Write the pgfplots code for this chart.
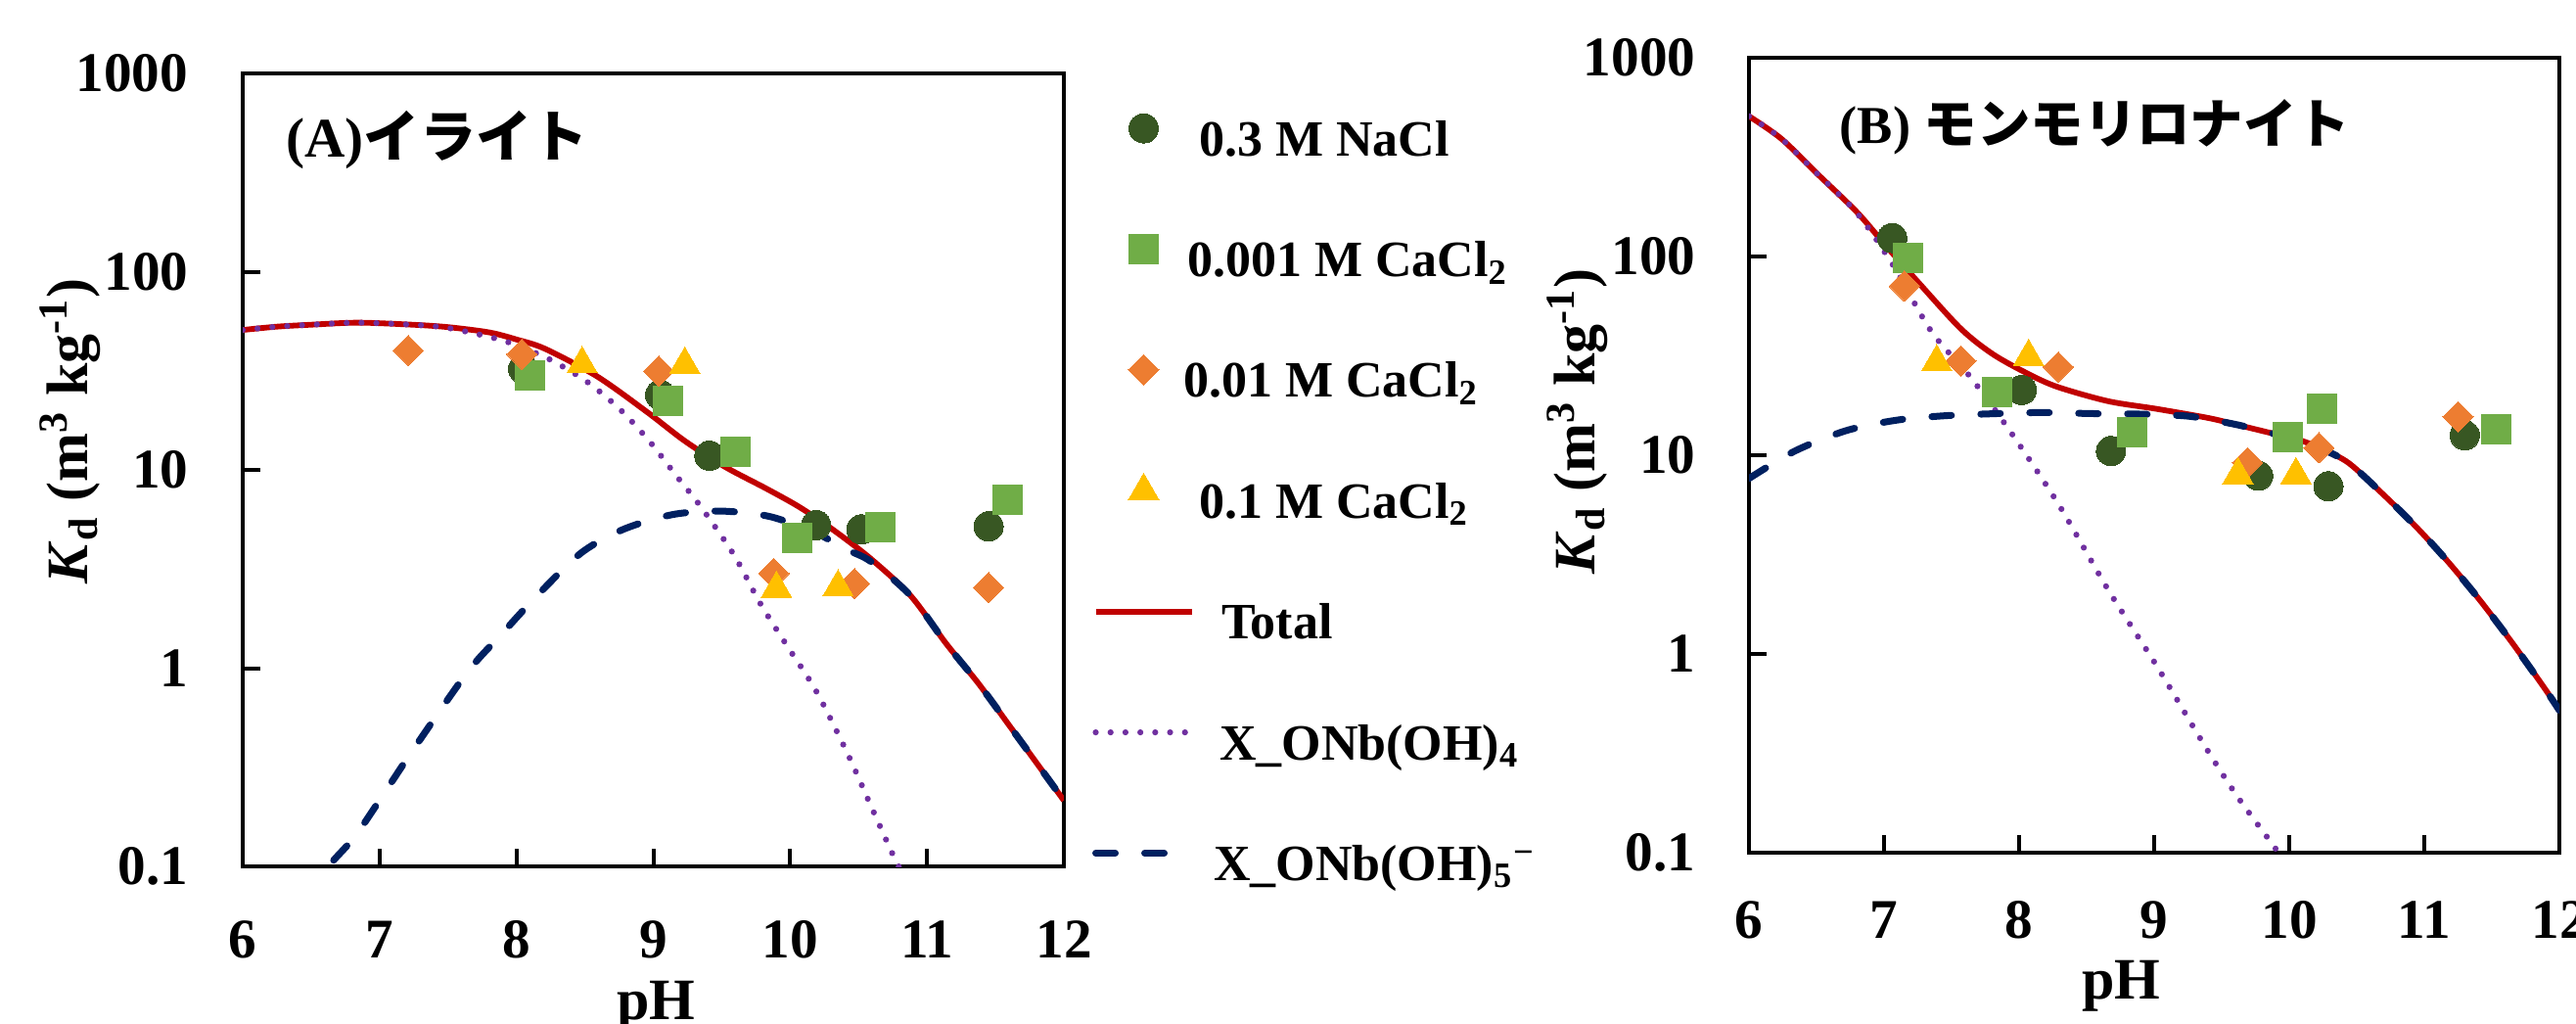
\documentclass[border=0pt]{standalone}
\usepackage{pgfplots}
\pgfplotsset{compat=1.18}
\usepackage{fontspec}
\setmainfont{Liberation Serif}
\newfontfamily\jp{Noto Sans CJK JP}

\definecolor{cNa}{HTML}{385723}
\definecolor{cCaA}{HTML}{70AD47}
\definecolor{cCaB}{HTML}{ED7D31}
\definecolor{cCaC}{HTML}{FFC000}
\definecolor{cTot}{HTML}{C00000}
\definecolor{cXf}{HTML}{7030A0}
\definecolor{cXv}{HTML}{002060}

\pgfplotsset{
  tot/.style={color=cTot, line width=1.45pt, smooth},
  xfour/.style={color=cXf, line width=1.55pt, line cap=round, dash pattern=on 0pt off 3.8pt, smooth},
  xfive/.style={color=cXv, line width=1.75pt, line cap=round, dash pattern=on 5pt off 7.5pt, smooth},
  mna/.style={only marks, mark=*, mark size=3.75pt, mark options={draw=cNa, fill=cNa, line width=0pt, solid}},
  mcaa/.style={only marks, mark=square*, mark size=3.75pt, mark options={draw=cCaA, fill=cCaA, line width=0pt, solid}},
  mcab/.style={only marks, mark=square*, mark size=2.75pt, mark options={rotate=45, draw=cCaB, fill=cCaB, line width=0pt, solid}},
  mcac/.style={only marks, mark=triangle*, mark size=4.5pt, mark options={draw=cCaC, fill=cCaC, line width=0pt, solid}},
}

\begin{document}
\begin{tikzpicture}

% (A) illite
\begin{axis}[
  scale only axis,
  at={(62pt,-221.25pt)}, anchor=south west,
  width=209.75pt, height=202.5pt,
  xmin=6, xmax=12, ymode=log, ymin=0.1, ymax=1000,
  xtick={6,7,8,9,10,11,12}, xticklabels={6,7,8,9,10,11,12},
  ytick={0.1,1,10,100,1000}, yticklabels={0.1,1,10,100,1000},
  yminorticks=false,
  tick pos=left, tick align=inside,
  major tick length=4.4pt,
  major tick style={line width=1pt, black},
  axis line style={line width=0.85pt},
  /pgf/number format/assume math mode=true,
  tick label style={font=\fontsize{14.3}{16}\selectfont\bfseries, inner sep=0pt},
  xticklabel style={anchor=north, yshift=-13.75pt},
  yticklabel style={anchor=east, xshift=-13.75pt},
  label style={font=\fontsize{15}{16}\selectfont\bfseries},
  xlabel={pH},
  ylabel={\textit{K}\textsubscript{d} (m\textsuperscript{3} kg\textsuperscript{-1})},
  xlabel style={at={(axis description cs:0.503,-0.1926)}, anchor=base},
  ylabel style={at={(axis description cs:-0.2098,0.549)}, anchor=center},
  legend image code/.code={\draw[mark repeat=2,mark phase=2,#1] plot coordinates {(0pt,3pt) (12.25pt,3pt) (24.5pt,3pt)};},
  legend cell align=left,
  legend style={draw=none, fill=none, inner sep=0pt, outer sep=0pt,
    at={(axis description cs:1.0346,0.953)}, anchor=north west,
    row sep=15.85pt, column sep=0pt,
    nodes={inner sep=0pt, text height=11.5pt, text depth=3.5pt,
      font=\fontsize{13}{14}\selectfont\bfseries}},
]
\addplot[tot, forget plot] coordinates {
(6.0,50.8) (6.25,52.8) (6.5,54) (6.84,55.3) (7.24,54) (7.5,52.5) (7.8,49.4)
(8.0,45.5) (8.21,40.8) (8.59,29.6) (8.95,19.7) (9.23,14.0) (9.52,10.4)
(9.83,8.02) (10.07,6.48) (10.31,5.01) (10.59,3.56) (10.88,2.32) (11.14,1.33)
(11.38,0.83) (11.6,0.515) (11.8,0.333) (12.0,0.215)};
\addplot[xfour, forget plot] coordinates {
(6.0,50.8) (6.25,52.8) (6.5,54) (6.84,55.3) (7.24,54) (7.5,52) (7.85,46)
(8.0,42.5) (8.25,35.9) (8.52,27.7) (8.76,20.1) (8.97,14.0) (9.16,9.5)
(9.35,6.48) (9.59,3.72) (9.78,2.13) (9.97,1.32) (10.19,0.766) (10.42,0.37)
(10.59,0.202) (10.76,0.111) (10.85,0.085)};
\addplot[xfive, forget plot] coordinates {
(6.5,0.065) (6.63,0.1) (6.84,0.148) (7.24,0.383) (7.64,0.95) (7.89,1.48)
(8.14,2.28) (8.47,3.80) (8.78,5.01) (9.14,5.95) (9.49,6.2) (9.85,5.82)
(10.19,4.8) (10.4,4.0) (10.59,3.45) (10.88,2.32) (11.14,1.33) (11.38,0.83)
(11.6,0.515) (11.8,0.333) (12.0,0.215)};

\addplot[mna] coordinates {
(8.05,32.3) (9.05,23.9) (9.41,11.8) (10.19,5.27) (10.52,5.01) (11.45,5.19)};
\addlegendentry{\hspace*{1pt}0.3 M NaCl}
\addplot[mcaa] coordinates {
(8.10,30.0) (9.11,22.4) (9.60,12.3) (10.05,4.54) (10.66,5.17) (11.59,7.1)};
\addlegendentry{\hspace*{-2pt}0.001 M CaCl\textsubscript{2}}
\addplot[mcab] coordinates {
(7.21,40) (8.04,38.3) (9.04,31.5) (9.88,3.0) (10.47,2.67) (11.45,2.55)};
\addlegendentry{\hspace*{-3pt}0.01 M CaCl\textsubscript{2}}
\addplot[mcac] coordinates {
(8.48,34.2) (9.23,34.0) (9.90,2.52) (10.35,2.56)};
\addlegendentry{\hspace*{1pt}0.1 M CaCl\textsubscript{2}}
\addlegendimage{tot}
\addlegendentry{\hspace*{6.75pt}Total}
\addlegendimage{xfour}
\addlegendentry{\hspace*{6.25pt}X\_ONb(OH)\textsubscript{4}}
\addlegendimage{xfive}
\addlegendentry{\hspace*{4.75pt}X\_ONb(OH)\textsubscript{5}\textsuperscript{−}}

\node[anchor=west, inner sep=0pt, font=\fontsize{14.3}{16}\selectfont\bfseries] at (rel axis cs:0.052,0.916) {(A)\jp イライト};
\end{axis}

% (B) montmorillonite
\begin{axis}[
  scale only axis,
  at={(446.75pt,-217.75pt)}, anchor=south west,
  width=207pt, height=203pt,
  xmin=6, xmax=12, ymode=log, ymin=0.1, ymax=1000,
  xtick={6,7,8,9,10,11,12}, xticklabels={6,7,8,9,10,11,12},
  ytick={0.1,1,10,100,1000}, yticklabels={0.1,1,10,100,1000},
  yminorticks=false,
  tick pos=left, tick align=inside,
  major tick length=4.4pt,
  major tick style={line width=1pt, black},
  axis line style={line width=0.85pt},
  /pgf/number format/assume math mode=true,
  tick label style={font=\fontsize{14.3}{16}\selectfont\bfseries, inner sep=0pt},
  xticklabel style={anchor=north, yshift=-12.25pt},
  yticklabel style={anchor=east, xshift=-13.5pt},
  label style={font=\fontsize{15}{16}\selectfont\bfseries},
  xlabel={pH},
  ylabel={\textit{K}\textsubscript{d} (m\textsuperscript{3} kg\textsuperscript{-1})},
  xlabel style={at={(axis description cs:0.459,-0.1847)}, anchor=base},
  ylabel style={at={(axis description cs:-0.2114,0.543)}, anchor=center},
]
\addplot[tot] coordinates {
(6.0,508) (6.24,391) (6.51,259) (6.80,167) (7.01,114) (7.26,73.3) (7.57,43.2)
(7.81,32.1) (8.08,25.4) (8.29,22.0) (8.66,18.7) (9.02,17.1) (9.4,15.4)
(9.6,14.3) (9.85,13.0) (10.08,11.9) (10.25,10.7) (10.44,9.14) (10.68,6.5)
(10.93,4.43) (11.17,2.94) (11.41,1.87) (11.65,1.14) (11.89,0.673) (12.0,0.52)};
\addplot[xfour] coordinates {
(6.0,508) (6.24,391) (6.51,259) (6.80,165) (7.06,92) (7.35,42) (7.64,24.7)
(7.93,13.3) (8.29,5.69) (8.66,2.10) (9.02,0.868) (9.38,0.34) (9.62,0.19)
(9.92,0.1) (10.0,0.08)};
\addplot[xfive] coordinates {
(6.0,7.64) (6.34,10.5) (6.72,13.3) (7.09,15.0) (7.45,15.8) (7.84,16.2)
(8.17,16.4) (8.54,16.2) (8.9,16.1) (9.26,15.7) (9.6,14.3) (9.85,13.0)
(10.08,11.9) (10.25,10.7) (10.44,9.14) (10.68,6.5) (10.93,4.43) (11.17,2.94)
(11.41,1.87) (11.65,1.14) (11.89,0.673) (12.0,0.52)};

\addplot[mna] coordinates {
(7.06,124) (8.02,21.3) (8.68,10.5) (9.77,7.89) (10.29,6.98) (11.30,12.6)};
\addplot[mcaa] coordinates {
(7.18,98) (7.84,20.9) (8.84,13.0) (9.99,12.4) (10.24,17.2) (11.53,13.5)};
\addplot[mcab] coordinates {
(7.15,71) (7.57,29.8) (8.29,27.8) (9.69,9.17) (10.22,10.9) (11.25,15.6)};
\addplot[mcac] coordinates {
(7.39,29.4) (8.07,31.3) (9.62,7.96) (10.05,7.96)};

\node[anchor=west, inner sep=0pt, font=\fontsize{13.6}{16}\selectfont\bfseries] at (rel axis cs:0.111,0.9126) {(B) \jp モンモリロナイト};
\end{axis}

\pgfresetboundingbox
\path[use as bounding box] (0pt,0pt) rectangle (658pt,-261.5pt);
\end{tikzpicture}
\end{document}
